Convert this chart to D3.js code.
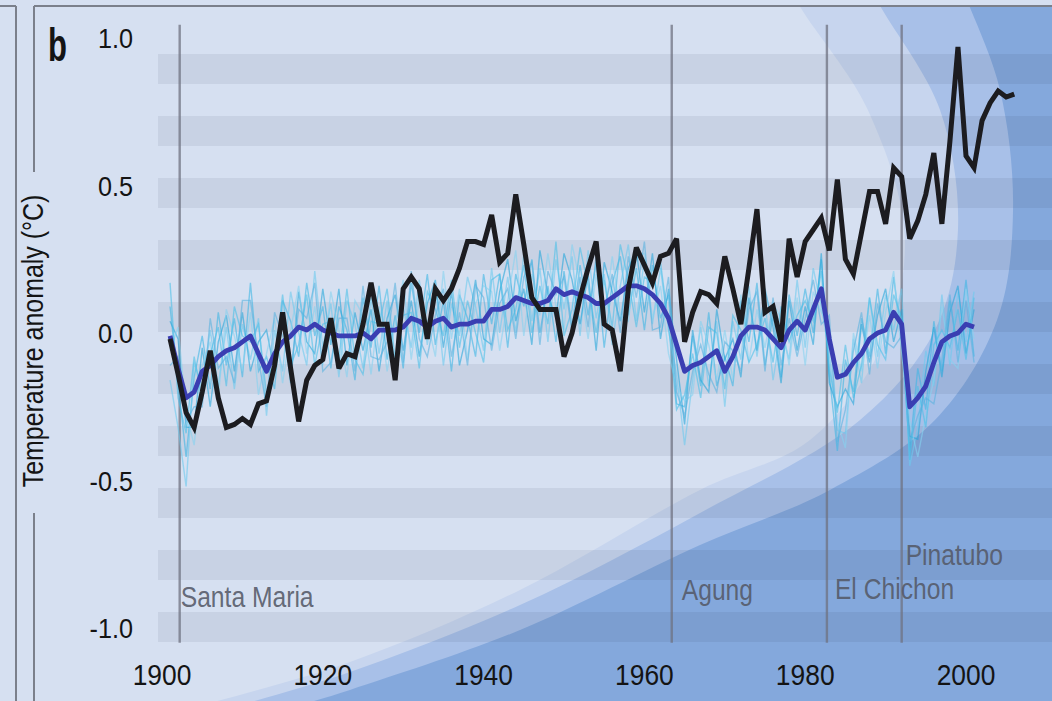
<!DOCTYPE html>
<html><head><meta charset="utf-8">
<script src="https://cdn.jsdelivr.net/npm/d3@7"></script>
<style>
html,body{margin:0;padding:0;background:#d6e0f1;}
svg{display:block;}
</style></head><body>
<svg id="chart" width="1052" height="701"></svg>
<script>
// ---------------- DATA ----------------
const obsStartYear = 1901;
const observed = [
 -0.02,-0.14,-0.27,-0.32,-0.20,-0.06,-0.22,-0.32,-0.31,-0.29,
 -0.31,-0.24,-0.23,-0.11,0.07,-0.12,-0.30,-0.16,-0.11,-0.09,
 0.05,-0.12,-0.07,-0.08,0.03,0.17,0.03,0.03,-0.16,0.15,
 0.19,0.15,-0.02,0.15,0.11,0.15,0.22,0.31,0.31,0.30,
 0.40,0.24,0.27,0.47,0.30,0.12,0.08,0.08,0.08,-0.08,
 0.00,0.12,0.22,0.31,0.03,0.01,-0.13,0.15,0.29,0.23,
 0.17,0.26,0.27,0.32,-0.03,0.07,0.14,0.13,0.10,0.26,
 0.15,0.03,0.22,0.42,0.07,0.09,-0.03,0.32,0.19,0.31,
 0.35,0.39,0.28,0.52,0.25,0.20,0.34,0.48,0.48,0.37,
 0.56,0.53,0.32,0.38,0.47,0.61,0.37,0.65,0.97,0.60,
 0.56,0.72,0.78,0.82,0.80,0.81];

const modelStartYear = 1901;
const modelMean = [
 -0.01,-0.12,-0.22,-0.20,-0.13,-0.11,-0.08,-0.06,-0.05,-0.03,
 -0.01,-0.07,-0.13,-0.07,-0.03,-0.01,0.02,0.01,0.03,0.01,
 0.00,-0.01,-0.01,-0.01,0.00,-0.02,0.01,0.01,0.01,0.02,
 0.05,0.04,0.02,0.04,0.05,0.02,0.03,0.03,0.04,0.04,
 0.08,0.08,0.09,0.12,0.11,0.10,0.10,0.11,0.15,0.13,
 0.14,0.13,0.12,0.10,0.10,0.12,0.14,0.16,0.16,0.15,
 0.13,0.10,0.05,-0.04,-0.13,-0.11,-0.10,-0.08,-0.06,-0.13,
 -0.08,-0.01,0.02,0.02,0.01,-0.02,-0.05,0.01,0.04,0.01,
 0.08,0.15,-0.02,-0.15,-0.14,-0.10,-0.07,-0.02,0.00,0.01,
 0.07,0.03,-0.25,-0.22,-0.18,-0.10,-0.03,-0.01,0.00,0.03,0.02];

const runA = [
 0.09,-0.17,-0.42,-0.15,-0.01,-0.19,0.07,-0.11,0.05,-0.15,
 0.17,-0.13,-0.08,-0.19,0.11,0.04,-0.08,0.17,-0.01,0.09,
 -0.12,0.09,0.01,-0.16,0.12,-0.05,0.16,-0.09,0.06,-0.12,
 0.17,0.00,0.20,-0.04,0.11,-0.13,0.13,0.05,-0.08,0.20,
 0.03,0.20,-0.05,0.20,0.09,0.25,0.00,0.16,-0.03,0.21,
 0.02,0.23,0.06,0.24,-0.05,0.17,0.26,0.06,0.22,0.01,
 0.23,0.05,0.13,-0.24,-0.25,-0.01,-0.18,0.07,-0.18,-0.08,
 -0.18,0.11,-0.03,0.17,-0.11,0.06,-0.15,0.13,-0.01,0.15,
 0.00,0.25,-0.14,-0.40,-0.09,-0.20,0.05,-0.08,0.15,-0.07,
 0.19,-0.02,-0.40,-0.12,-0.26,0.04,-0.13,0.11,-0.06,0.18,-0.08];
const runB = [
 -0.16,-0.32,-0.52,-0.10,-0.18,0.01,-0.18,0.02,-0.19,0.03,
 -0.09,0.05,-0.28,0.01,-0.13,0.14,0.00,-0.11,0.21,-0.05,
 0.10,-0.15,0.11,0.03,-0.12,0.12,-0.07,0.11,-0.14,0.09,
 -0.05,0.18,-0.04,0.16,-0.11,0.10,-0.01,0.19,0.09,-0.06,
 0.22,0.00,0.19,0.00,0.27,0.04,0.22,-0.03,0.25,0.08,
 0.26,-0.01,0.28,0.05,0.20,-0.04,0.16,0.30,0.04,0.25,
 0.03,0.22,0.01,-0.14,-0.38,-0.16,0.02,-0.18,0.04,-0.25,
 0.04,-0.09,0.16,-0.08,0.11,-0.16,0.01,-0.09,0.18,-0.05,
 0.22,0.09,-0.07,-0.33,-0.34,-0.02,-0.17,0.12,-0.08,0.13,
 0.01,0.15,-0.45,-0.32,-0.06,-0.18,0.13,-0.11,0.14,-0.03,0.14];
const runC = [
 0.04,-0.02,-0.32,-0.32,-0.05,-0.25,-0.03,0.06,-0.13,0.07,
 -0.13,-0.03,0.01,-0.13,0.05,-0.17,0.14,-0.03,-0.07,0.15,
 -0.04,0.15,-0.11,0.07,-0.06,0.08,-0.13,0.05,0.13,-0.06,
 0.11,-0.08,0.10,0.18,-0.05,0.14,-0.11,0.01,0.18,-0.02,
 -0.04,0.14,0.25,0.04,0.15,-0.04,0.28,0.13,0.05,0.27,
 0.18,0.03,0.20,-0.06,0.24,0.14,0.04,0.22,0.28,0.07,
 0.27,-0.02,0.15,-0.09,-0.31,0.01,-0.16,-0.20,0.08,-0.09,
 -0.02,-0.15,0.12,-0.06,0.15,0.02,-0.17,0.11,-0.06,0.09,
 -0.04,0.27,-0.17,-0.25,-0.19,-0.24,0.03,-0.10,0.06,0.15,
 -0.03,0.08,-0.35,-0.36,-0.13,0.02,-0.15,0.07,0.16,-0.07,0.08];
const runD = [
 -0.06,0.02,-0.27,-0.38,-0.11,-0.03,-0.22,0.08,-0.01,-0.13,
 0.07,-0.21,-0.07,0.05,-0.17,0.01,0.16,-0.07,0.09,-0.11,
 0.14,0.01,-0.15,0.11,0.06,-0.14,0.09,-0.13,0.03,0.18,
 -0.09,0.12,0.04,-0.08,0.21,-0.02,0.15,-0.09,0.10,0.16,
 0.14,-0.06,0.11,0.28,-0.01,0.20,0.06,0.27,0.09,0.01,
 0.30,0.17,-0.02,0.20,0.04,0.26,0.06,0.04,0.26,0.27,
 0.05,0.16,-0.07,-0.18,-0.23,-0.21,0.04,-0.04,-0.16,0.01,
 -0.16,0.13,-0.10,0.08,-0.05,0.10,0.05,-0.11,0.12,-0.11,
 0.14,0.07,0.02,-0.30,-0.39,0.00,-0.13,0.06,-0.12,0.07,
 0.21,-0.07,-0.30,-0.42,-0.28,-0.16,0.09,-0.09,-0.12,0.15,-0.02];
const runE = [
 0.17,-0.22,-0.34,-0.08,-0.23,-0.07,0.02,-0.18,0.09,-0.01,
 -0.03,0.03,-0.21,-0.11,0.13,-0.11,-0.04,0.13,-0.11,0.03,
 0.04,-0.09,0.15,-0.09,-0.14,0.04,0.03,0.15,-0.09,0.06,
 0.07,-0.12,0.14,0.08,-0.01,0.18,-0.05,0.11,0.00,-0.10,
 0.18,0.20,0.01,0.08,0.23,0.00,0.16,0.03,0.31,-0.01,
 0.08,0.29,0.16,0.00,0.18,0.02,0.30,0.18,0.02,0.19,
 0.17,0.24,0.03,-0.26,-0.21,-0.07,-0.22,0.02,0.00,-0.19,
 0.06,0.01,-0.10,-0.04,0.05,-0.10,0.09,-0.03,0.06,0.11,
 0.04,0.21,-0.12,-0.27,-0.04,-0.22,-0.11,0.12,-0.04,-0.09,
 0.13,0.05,-0.43,-0.18,-0.32,-0.04,0.01,-0.05,0.08,-0.09,0.12];
const runF = [
 -0.11,-0.08,-0.30,-0.25,-0.25,0.05,-0.12,-0.08,-0.17,0.11,
 0.11,-0.09,-0.25,0.07,-0.01,-0.13,0.08,0.05,0.17,-0.13,
 -0.10,0.05,0.05,-0.13,0.16,-0.08,-0.09,-0.03,0.17,-0.10,
 0.21,-0.02,-0.08,0.06,0.15,-0.08,0.07,-0.11,0.16,0.12,
 -0.06,0.10,0.15,-0.02,0.19,0.24,-0.04,0.21,0.13,0.19,
 0.00,0.19,0.02,0.26,0.08,0.20,0.00,0.26,0.12,0.31,
 0.01,0.02,0.19,-0.20,-0.28,-0.13,-0.04,-0.14,-0.20,-0.03,
 -0.06,-0.13,0.08,0.14,-0.13,0.12,-0.11,0.05,-0.08,0.05,
 0.18,0.03,0.06,-0.37,-0.26,-0.06,0.07,-0.14,0.10,-0.03,
 -0.05,-0.01,-0.37,-0.28,-0.22,-0.24,-0.09,0.13,-0.10,0.11,-0.10];

const volcanoNames = ["Santa Maria", "Agung", "El Chichon", "Pinatubo"];
const volcanoYears = [1902.2, 1963.4, 1982.7, 1992.0];

const xTickValues = [1900, 1920, 1940, 1960, 1980, 2000];
const yTickValues = [1.0, 0.5, 0.0, -0.5, -1.0];
const panelLetter = "b";
const yAxisTitle = "Temperature anomaly (°C)";

// ---------------- LAYOUT / STYLE ----------------
const W = 1052, H = 701;
const FONT = "'Liberation Sans',Arial,'DejaVu Sans',sans-serif";
const runColors = ["#3db6e4", "#6ccaee", "#27a6da", "#86d2f0", "#4bbfe8", "#5ab2df"];

// backdrop swoosh boundaries, in (year, anomaly) space
const ringShapes = [
  {color: "#c7d5ee", pts: [[1977.6,1.23],[1978.9,1.129],[1987.8,0.756],[1992.41,0.315],[1989.3,-0.058],[1980.6,-0.363],[1966.92,-0.532],[1944.53,-0.871],[1923.38,-1.115],[1902.24,-1.285],[1892.29,-1.38]]},
  {color: "#a8c0e8", pts: [[1987.44,1.23],[1988.93,1.129],[1996.77,0.756],[1999.0,0.349],[1996.14,0.010],[1986.82,-0.295],[1966.92,-0.610],[1944.53,-0.922],[1923.38,-1.149],[1907.21,-1.285],[1898.51,-1.38]]},
  {color: "#84a8dc", pts: [[1998.63,1.23],[2000.12,1.129],[2004.23,0.824],[2005.85,0.417],[2003.86,0.044],[1996.14,-0.295],[1983.08,-0.532],[1966.92,-0.719],[1944.53,-1.007],[1923.38,-1.210],[1913.43,-1.295],[1904.73,-1.397]]}
];

// ---------------- SCALES ----------------
const x = d3.scaleLinear().domain([1900, 2000]).range([162, 966]);
const y = d3.scaleLinear().domain([-1, 1]).range([628, 38]);

const svg = d3.select("#chart");
svg.append("rect").attr("width", W).attr("height", H).attr("fill", "#d6e0f1");

svg.append("clipPath").attr("id", "panel")
  .append("rect").attr("x", 35).attr("y", 7).attr("width", W - 35).attr("height", H - 7);

const bg = svg.append("g").attr("clip-path", "url(#panel)");
const ringLine = d3.line().x(d => x(d[0])).y(d => y(d[1])).curve(d3.curveCatmullRom.alpha(0.5));
ringShapes.forEach(r => {
  const first = r.pts[0], last = r.pts[r.pts.length - 1];
  const d = ringLine(r.pts) + `L${W + 60},${y(last[1])}L${W + 60},${y(first[1])}Z`;
  bg.append("path").attr("d", d).attr("fill", r.color);
});

// horizontal stripes
const stripeIndex = d3.range(10);
const stripeBand = d3.scaleBand().domain(stripeIndex).range([54, 642]).paddingInner(0.51613).paddingOuter(0);
bg.append("g").selectAll("rect").data(stripeIndex).join("rect")
  .attr("x", 158).attr("width", W - 158)
  .attr("y", d => stripeBand(d)).attr("height", stripeBand.bandwidth())
  .attr("fill", "#1e2a48").attr("fill-opacity", 0.075);

// frame lines
const frame = svg.append("g").attr("stroke", "#7b808b").attr("stroke-width", 2).attr("fill", "none");
frame.append("line").attr("x1", 34).attr("x2", W).attr("y1", 6).attr("y2", 6);
frame.append("line").attr("x1", 34).attr("x2", 34).attr("y1", 6).attr("y2", 172);
frame.append("line").attr("x1", 34).attr("x2", 34).attr("y1", 513).attr("y2", H);
frame.append("line").attr("x1", 0).attr("x2", 16).attr("y1", 6).attr("y2", 6);
frame.append("line").attr("x1", 16).attr("x2", 16).attr("y1", 6).attr("y2", H);

// volcano lines
svg.append("g").selectAll("line").data(volcanoYears).join("line")
  .attr("x1", d => x(d)).attr("x2", d => x(d))
  .attr("y1", y(1.045)).attr("y2", y(-1.05))
  .attr("stroke", "#6f7280").attr("stroke-opacity", 0.75).attr("stroke-width", 2.4);

// model runs
const runs = [runA, runB, runC, runD, runE, runF];
const lineFrom = (start) => d3.line().x((d, i) => x(start + i)).y(d => y(d));
svg.append("g").selectAll("path").data(runs).join("path")
  .attr("d", d => lineFrom(modelStartYear)(d))
  .attr("fill", "none")
  .attr("stroke", (d, i) => runColors[i])
  .attr("stroke-width", 1.4).attr("stroke-opacity", 0.6);

// model mean
svg.append("path").datum(modelMean)
  .attr("d", lineFrom(modelStartYear))
  .attr("fill", "none").attr("stroke", "#3a3eb2").attr("stroke-width", 4.8)
  .attr("stroke-linejoin", "round");

// observations
svg.append("path").datum(observed)
  .attr("d", lineFrom(obsStartYear))
  .attr("fill", "none").attr("stroke", "#1c1c20").attr("stroke-width", 5)
  .attr("stroke-linejoin", "miter").attr("stroke-miterlimit", 3);

// text helper: narrow the installed sans to mimic the condensed face of the original
function narrowText(sel, px, py, sx, extra) {
  return sel.attr("transform", (d, i) => `translate(${px(d, i)},${py(d, i)})${extra || ""} scale(${sx},1)`)
    .attr("font-family", FONT);
}

// volcano labels
const volcanoLabelAt = [-0.93, -0.905, -0.902, -0.787];
const volcanoLabelDx = [1, 10, 8, 4];
narrowText(svg.append("g").selectAll("text").data(volcanoNames).join("text"),
    (d, i) => x(volcanoYears[i]) + volcanoLabelDx[i], (d, i) => y(volcanoLabelAt[i]), 0.85)
  .attr("font-size", 29)
  .attr("fill", "#555a68").attr("fill-opacity", 0.9)
  .text(d => d);

// y tick labels
narrowText(svg.append("g").selectAll("text").data(yTickValues).join("text"),
    d => 133, d => y(d), 0.9)
  .attr("dy", "0.36em").attr("text-anchor", "end")
  .attr("font-size", 28).attr("fill", "#141414")
  .text(d => d.toFixed(1));

// x tick labels
narrowText(svg.append("g").selectAll("text").data(xTickValues).join("text"),
    d => x(d), d => 685, 0.88)
  .attr("text-anchor", "middle")
  .attr("font-size", 30).attr("fill", "#141414")
  .text(d => d);

// y axis title
narrowText(svg.append("text").datum(yAxisTitle), d => 43, d => 341, 0.86, " rotate(-90)")
  .attr("text-anchor", "middle")
  .attr("font-size", 29).attr("fill", "#141414")
  .text(d => d);

// panel letter
narrowText(svg.append("text").datum(panelLetter), d => 48, d => 61, 0.66)
  .attr("font-size", 47).attr("font-weight", "bold").attr("fill", "#141414")
  .text(d => d);
</script>
</body></html>
